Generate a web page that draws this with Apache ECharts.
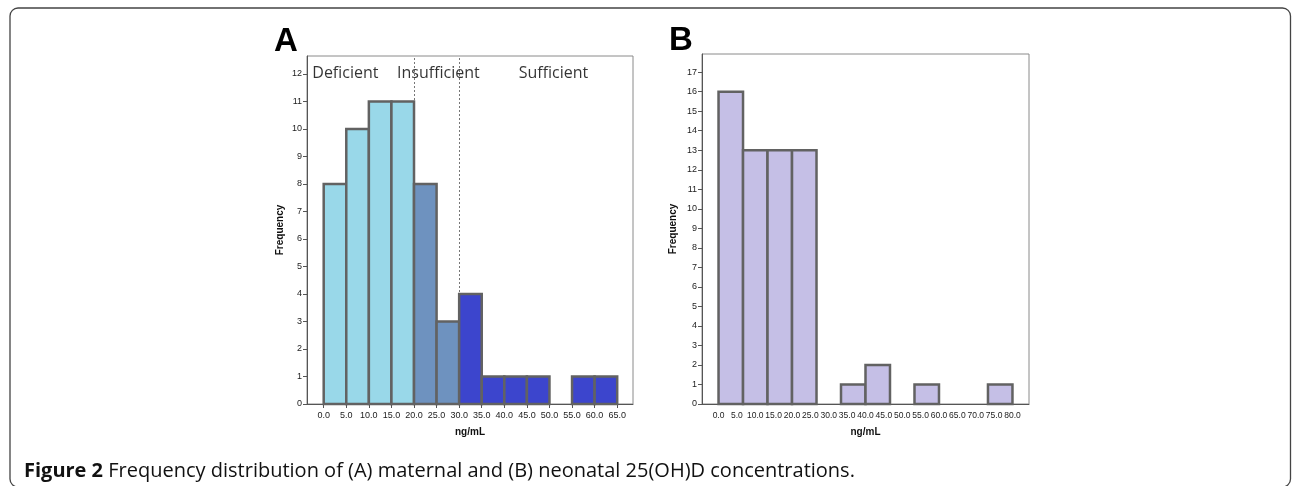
<!DOCTYPE html>
<html>
<head>
<meta charset="utf-8">
<script src="https://cdn.jsdelivr.net/npm/echarts@6/dist/echarts.min.js"></script>
<style>
html,body{margin:0;padding:0;background:#fff;}
#c{width:1292px;height:486px;}
</style>
</head>
<body>
<div id="c"></div>
<script>
// ---- Data ----
// Panel A (maternal): bins of 5 ng/mL starting at 0
const aBinWidth = 5;
const aFreq = [8, 10, 11, 11, 8, 3, 4, 1, 1, 1, 0, 1, 1];
const aTicks = [0, 5, 10, 15, 20, 25, 30, 35, 40, 45, 50, 55, 60, 65];
const aYTicks = [0, 1, 2, 3, 4, 5, 6, 7, 8, 9, 10, 11, 12];
const aCutoffs = [20, 30];
const aClassNames = ['Deficient', 'Insufficient', 'Sufficient'];
const aClassPos = [[4.8, 12], [25.4, 12], [50.9, 12]];

// Panel B (neonatal): 12 equal bins spanning 0..80 ng/mL
const bRange = [0, 80];
const bFreq = [16, 13, 13, 13, 0, 1, 2, 0, 1, 0, 0, 1];
const bTicks = [0, 5, 10, 15, 20, 25, 30, 35, 40, 45, 50, 55, 60, 65, 70, 75, 80];
const bYTicks = [0, 1, 2, 3, 4, 5, 6, 7, 8, 9, 10, 11, 12, 13, 14, 15, 16, 17];

// ---- Styles ----
const colDef = '#99d8e9', colIns = '#6e92bf', colSuf = '#3c45cd', colB = '#c5bfe6';
const classColors = [colDef, colIns, colSuf];

function classOf(x0) { return x0 < aCutoffs[0] ? 0 : (x0 < aCutoffs[1] ? 1 : 2); }

const aData = aFreq.map((f, i) => {
  const x0 = i * aBinWidth, x1 = x0 + aBinWidth;
  return [x0, x1, f, classOf(x0)];
});
const bw = (bRange[1] - bRange[0]) / bFreq.length;
const bData = bFreq.map((f, i) => [bRange[0] + i * bw, bRange[0] + (i + 1) * bw, f, 3]);

function renderBar(params, api) {
  const x0 = api.value(0), x1 = api.value(1), y = api.value(2), c = api.value(3);
  if (!y) return null;
  const p0 = api.coord([x0, y]);
  const p1 = api.coord([x1, 0]);
  return {
    type: 'rect',
    shape: { x: p0[0], y: p0[1], width: p1[0] - p0[0], height: p1[1] - p0[1] },
    style: { fill: c === 3 ? colB : classColors[c], stroke: '#626262', lineWidth: 2.5 }
  };
}

const tickFont = { fontFamily: 'Liberation Sans, Arial, sans-serif', fontSize: 9, color: '#222' };
const nameFont = { fontFamily: 'Liberation Sans, Arial, sans-serif', fontSize: 10, fontWeight: 'bold', color: '#111' };

function xAxis(idx, min, max, ticks, showTicks, fs) {
  return {
    type: 'value', gridIndex: idx, min: min, max: max,
    name: 'ng/mL', nameLocation: 'middle', nameGap: 23, nameTextStyle: nameFont,
    axisLine: { show: true, onZero: false, lineStyle: { color: '#555', width: 1 } },
    axisTick: { show: showTicks, customValues: ticks, length: 4, lineStyle: { color: '#555' } },
    axisLabel: Object.assign({ customValues: ticks, margin: 7, formatter: v => v.toFixed(1) }, tickFont, { fontSize: fs }),
    splitLine: { show: false }
  };
}
function yAxis(idx, max, ticks, gap) {
  return {
    type: 'value', gridIndex: idx, min: 0, max: max,
    name: 'Frequency', nameLocation: 'middle', nameGap: gap, nameTextStyle: nameFont,
    axisLine: { show: true, onZero: false, lineStyle: { color: '#555', width: 1 } },
    axisTick: { show: true, customValues: ticks, length: 4, lineStyle: { color: '#555' } },
    axisLabel: Object.assign({ customValues: ticks, margin: 5 }, tickFont),
    splitLine: { show: false }
  };
}

const chart = echarts.init(document.getElementById('c'), null, { renderer: 'canvas' });

const option = {
  animation: false,
  backgroundColor: '#fff',
  grid: [
    { left: 307, top: 56, width: 326, height: 348, show: true, borderColor: '#8a8a8a', borderWidth: 1, containLabel: false },
    { left: 702, top: 54, width: 327, height: 350, show: true, borderColor: '#8a8a8a', borderWidth: 1, containLabel: false }
  ],
  xAxis: [
    xAxis(0, -3.7, 68.5, aTicks, true, 9),
    xAxis(1, -4.5, 84.5, bTicks, false, 8.5)
  ],
  yAxis: [
    yAxis(0, 12.65, aYTicks, 22),
    yAxis(1, 17.93, bYTicks, 24)
  ],
  series: [
    {
      type: 'custom', xAxisIndex: 0, yAxisIndex: 0, renderItem: renderBar,
      encode: { x: [0, 1], y: 2 }, data: aData, z: 3,
      markLine: {
        silent: true, symbol: 'none', label: { show: false }, z: 2,
        lineStyle: { type: [2, 2], color: '#777', width: 1 },
        data: aCutoffs.map(v => ({ xAxis: v }))
      }
    },
    {
      type: 'scatter', xAxisIndex: 0, yAxisIndex: 0, symbolSize: 0, silent: true,
      data: aClassNames.map((n, i) => ({ name: n, value: aClassPos[i] })),
      label: {
        show: true, position: 'inside', formatter: '{b}',
        fontFamily: 'Open Sans, sans-serif', fontSize: 16, color: '#000'
      },
      z: 5
    },
    {
      type: 'custom', xAxisIndex: 1, yAxisIndex: 1, renderItem: renderBar,
      encode: { x: [0, 1], y: 2 }, data: bData, z: 3
    }
  ],
  graphic: [
    {
      type: 'rect', shape: { x: 10, y: 8, width: 1280.5, height: 479, r: 8 },
      style: { fill: 'none', stroke: '#444', lineWidth: 1.3 }, z: 0, silent: true
    },
    {
      type: 'text', left: 274, top: 25,
      style: { text: 'A', font: 'bold 33px "Liberation Sans", Arial, sans-serif', fill: '#000' }
    },
    {
      type: 'text', left: 669, top: 24,
      style: { text: 'B', font: 'bold 33px "Liberation Sans", Arial, sans-serif', fill: '#000' }
    },
    {
      type: 'text', left: 24, top: 461,
      style: {
        text: '{b|Figure 2} Frequency distribution of (A) maternal and (B) neonatal 25(OH)D concentrations.',
        font: '20px "Open Sans", sans-serif', fill: '#111',
        rich: { b: { font: 'bold 20px "Open Sans", sans-serif', fill: '#111' } }
      }
    }
  ]
};
chart.setOption(option);
</script>
</body>
</html>
